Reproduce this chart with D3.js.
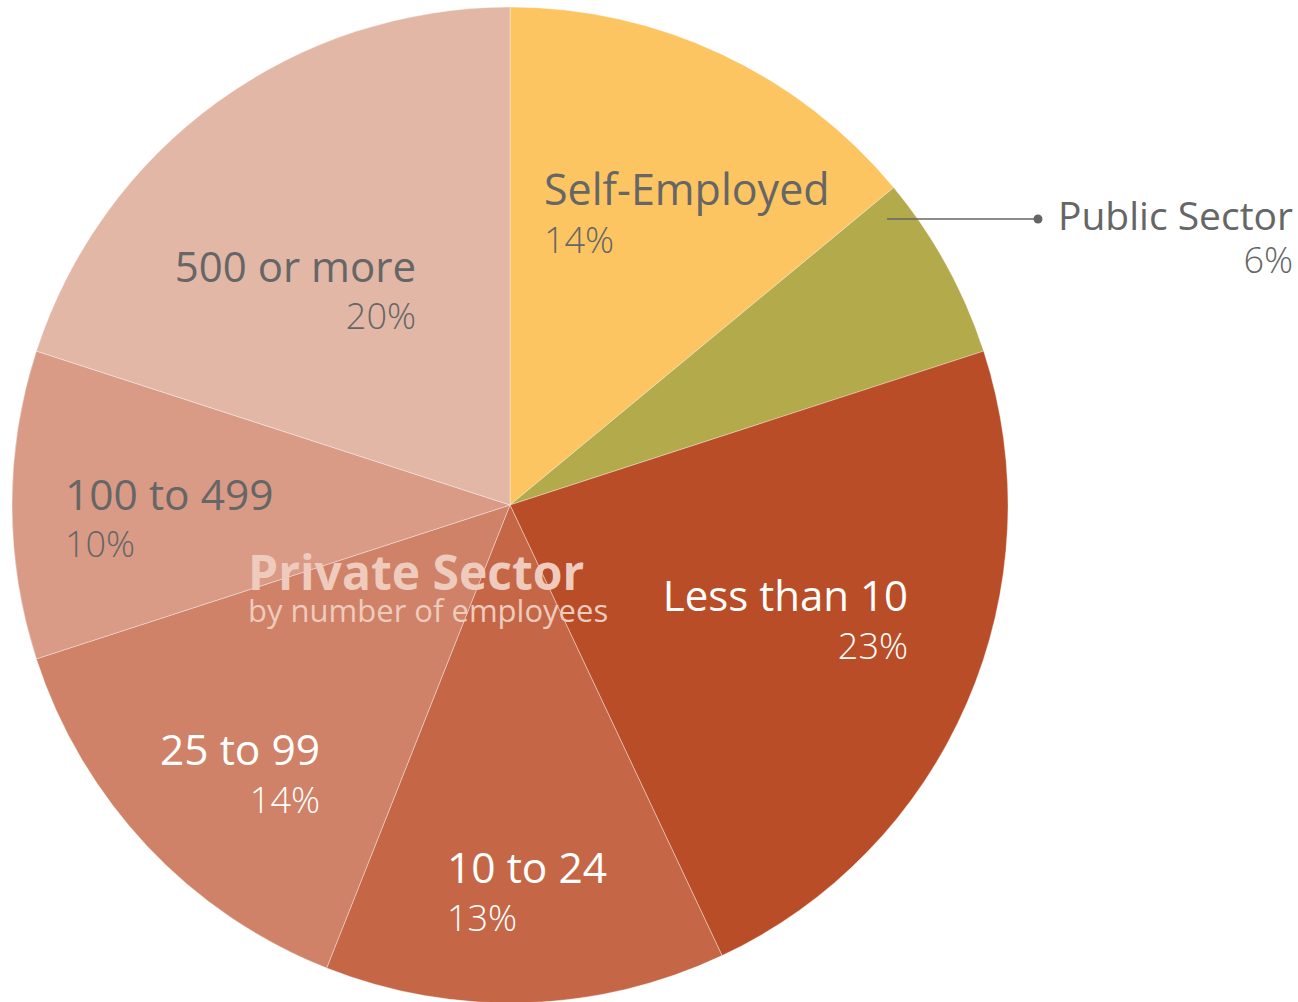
<!DOCTYPE html>
<html><head><meta charset="utf-8">
<script src="https://cdn.jsdelivr.net/npm/d3@7"></script>
<style>html,body{margin:0;padding:0;background:#fff;}svg{display:block;}</style>
</head><body>
<svg id="chart" width="1298" height="1002"></svg>
<script>
const categories = ["Self-Employed","Public Sector","Less than 10","10 to 24","25 to 99","100 to 499","500 or more"];
const values = [14, 6, 23, 13, 14, 10, 20];
const percentLabels = ["14%","6%","23%","13%","14%","10%","20%"];
const colors = ["#FCC562","#B3AA4B","#B94D27","#C56747","#CF8267","#D99B86","#E3B7A6"];
const centerTitle = "Private Sector";
const centerSubtitle = "by number of employees";

// label layout: [x, nameBaseline, pctBaseline, anchor, color, nameSize]
const labelLayout = [
  [544, 205, 253, "start", "#666", 43],
  [1293, 230, 273, "end", "#666", 39],
  [908, 611, 659, "end", "#fff", 42],
  [447, 883, 931, "start", "#fff", 42.5],
  [320, 765, 813, "end", "#fff", 42.5],
  [65, 510, 557, "start", "#666", 42.5],
  [416, 282, 329, "end", "#666", 42]
];

const svg = d3.select("#chart");
const cx = 510, cy = 505, R = 498;
const g = svg.append("g").attr("transform", `translate(${cx},${cy})`);
const pie = d3.pie().sort(null).value(d => d)(values);
const arc = d3.arc().innerRadius(0).outerRadius(R);
g.selectAll("path").data(pie).enter().append("path")
  .attr("d", arc)
  .attr("fill", (d,i) => colors[i])
  .attr("stroke", "rgba(255,255,255,0.35)")
  .attr("stroke-width", 1);

const font = "'Open Sans', 'Noto Sans', sans-serif";

// leader line for Public Sector
const yLine = 219;
svg.append("line").attr("x1", 887).attr("y1", yLine).attr("x2", 1038).attr("y2", yLine)
  .attr("stroke", "#666").attr("stroke-width", 1.5);
svg.append("circle").attr("cx", 1038).attr("cy", yLine).attr("r", 4.5).attr("fill", "#666");

categories.forEach((c, i) => {
  const L = labelLayout[i];
  svg.append("text").attr("x", L[0]).attr("y", L[1]).attr("text-anchor", L[3])
    .attr("fill", L[4]).attr("font-family", font).attr("font-size", L[5]).attr("font-weight", 400)
    .text(c);
  svg.append("text").attr("x", L[0]).attr("y", L[2]).attr("text-anchor", L[3])
    .attr("fill", L[4]).attr("font-family", font).attr("font-size", 36).attr("font-weight", 300)
    .text(percentLabels[i]);
});

svg.append("text").attr("x", 248).attr("y", 590).attr("fill", "#EECBBD")
  .attr("font-family", font).attr("font-size", 48).attr("font-weight", 700).text(centerTitle);
svg.append("text").attr("x", 248).attr("y", 622).attr("fill", "#EECBBD")
  .attr("font-family", font).attr("font-size", 31).attr("font-weight", 400).text(centerSubtitle);
</script>
</body></html>
